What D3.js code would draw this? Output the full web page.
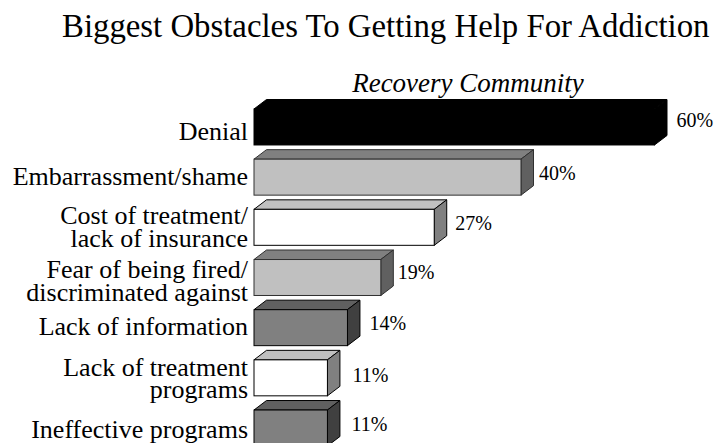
<!DOCTYPE html>
<html>
    <head>
        <title>Biggest Obstacles To Getting Help For Addiction</title>
        <style>
            html, body { margin: 0; padding: 0; background: #fff; overflow: hidden; }
            svg { display: block; }
            text { font-family: "Liberation Serif", serif; fill: black; }
            .title { font-size: 32.8px; }
            .subtitle { font-size: 27px; font-style: italic; text-anchor: middle; }
            .cat { font-size: 26px; text-anchor: end; }
            .val { font-size: 20px; }
        </style>
    </head>
    <body>
        <svg class="chart" width="723" height="443"></svg>
        <script src="https://d3js.org/d3.v7.min.js"></script>
        <script>
            var categories = ["Denial", "Embarrassment/shame", "Cost of treatment", "Fear of being fired", "Lack of information", "Lack of treatment", "Ineffective programs"];
            var labelLines = [["Denial"], ["Embarrassment/shame"], ["Cost of treatment/", "lack of insurance"], ["Fear of being fired/", "discriminated against"], ["Lack of information"], ["Lack of treatment", "programs"], ["Ineffective programs"]];
            var values = [60, 40, 27, 19, 14, 11, 11];
            var shades = ["black", "light", "white", "light", "dark", "white", "dark"];

            // front, top, side
            var palette = {
                black: ["#000000", "#000000", "#000000"],
                light: ["#c0c0c0", "#808080", "#606060"],
                white: ["#ffffff", "#c0c0c0", "#808080"],
                dark: ["#808080", "#606060", "#404040"]
            };

            // the labels don't sit at a regular distance from the bars in the original
            var valueDx = [22, 18, 21, 17, 22, 25, 24];
            var valueDy = [0, 3, 2.6, 1.5, 2.3, 3.8, 3];
            var catDy = [13, 8, -3.4, 0.8, 7, -2, 9.7];
            var catLineH = 22.6;

            var depthX = 12.5, depthY = 9.5;

            var xScale = d3.scaleLinear().domain([0, 60]).range([254, 654.5]);
            var yScale = d3.scaleBand().domain(categories).range([109, 446]).paddingInner(0.283);

            var chart = d3.select('.chart');

            chart.append('text').attr('class', 'title').attr('x', 62).attr('y', 37)
                .text('Biggest Obstacles To Getting Help For Addiction');
            chart.append('text').attr('class', 'subtitle').attr('x', 468).attr('y', 92)
                .text('Recovery Community');

            var bars = chart.selectAll('.bar')
                .data(categories)
                .enter()
                .append('g')
                .attr('class', 'bar');

            function pts(list) { return list.map(function(p) { return p.join(','); }).join(' '); }

            bars.each(function(cat, i) {
                var g = d3.select(this);
                var x0 = xScale(0), x1 = xScale(values[i]);
                var y0 = yScale(cat), y1 = y0 + yScale.bandwidth();
                var mid = (y0 + y1) / 2;
                var colors = palette[shades[i]];
                var line = shades[i] == 'light' ? '#303030' : 'black';

                g.append('polygon')
                    .attr('points', pts([[x0, y0], [x0 + depthX, y0 - depthY], [x1 + depthX, y0 - depthY], [x1, y0]]))
                    .style('fill', colors[1]).style('stroke', line);
                g.append('polygon')
                    .attr('points', pts([[x1, y0], [x1 + depthX, y0 - depthY], [x1 + depthX, y1 - depthY], [x1, y1]]))
                    .style('fill', colors[2]).style('stroke', line);
                g.append('rect')
                    .attr('x', x0).attr('y', y0)
                    .attr('width', x1 - x0).attr('height', y1 - y0)
                    .style('fill', colors[0]).style('stroke', line);

                g.append('text')
                    .attr('class', 'val')
                    .attr('x', x1 + valueDx[i])
                    .attr('y', mid + valueDy[i])
                    .text(values[i] + '%');

                labelLines[i].forEach(function(t, k) {
                    g.append('text')
                        .attr('class', 'cat')
                        .attr('x', 248)
                        .attr('y', mid + catDy[i] + k * catLineH)
                        .text(t);
                });
            });
        </script>
    </body>
</html>
